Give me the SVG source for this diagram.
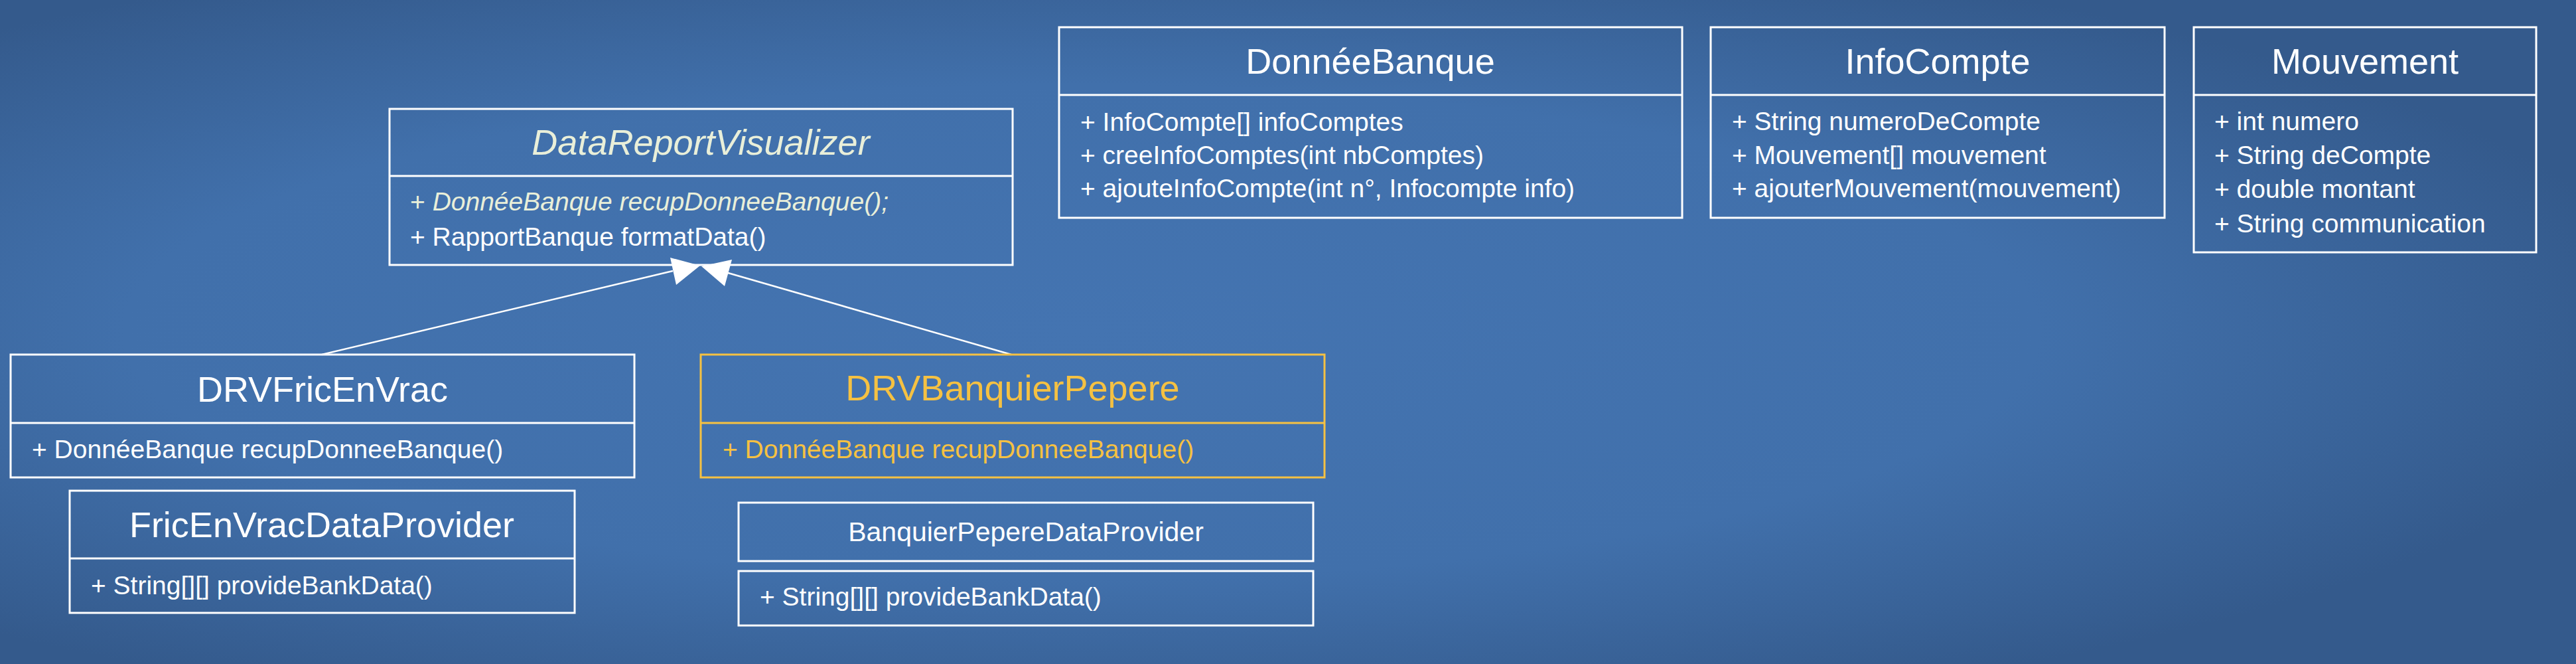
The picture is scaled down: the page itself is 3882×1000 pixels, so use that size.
<svg xmlns="http://www.w3.org/2000/svg" width="3882" height="1000" viewBox="0 0 3882 1000">
<defs>
<radialGradient id="bg" cx="0.42" cy="0.5" r="0.62">
<stop offset="0" stop-color="#4474b1"/>
<stop offset="0.6" stop-color="#4170ab"/>
<stop offset="1" stop-color="#345a8c"/>
</radialGradient>
<style>
.box{fill:none;stroke:#ffffff;stroke-width:3}
.ybox{fill:none;stroke:#f5c142;stroke-width:3}
.t{font-family:"Liberation Sans",Arial,sans-serif;font-size:54px;fill:#ffffff;text-anchor:middle}
.m{font-family:"Liberation Sans",Arial,sans-serif;font-size:39px;fill:#ffffff}
.y{fill:#f5c142}
.cream{fill:#e9efd9}
.it{font-style:italic}
.conn{stroke:#ffffff;stroke-width:2.5;fill:none}
.head{fill:#ffffff;stroke:none}
</style>
</defs>
<rect x="0" y="0" width="3882" height="1000" fill="url(#bg)"/>

<g id="connectors">
<line class="conn" x1="485" y1="534" x2="1014" y2="408"/>
<polygon class="head" points="1055,400 1010,388 1019,429"/>
<line class="conn" x1="1524" y1="534" x2="1097" y2="411"/>
<polygon class="head" points="1057,401 1103,391 1092,431"/>
</g>

<g id="DataReportVisualizer">
<rect class="box" x="587" y="164" width="939" height="235"/>
<line class="box" x1="587" y1="265" x2="1526" y2="265"/>
<text class="t cream it" x="1056" y="233">DataReportVisualizer</text>
<text class="m cream" x="618" y="317">+ <tspan class="it">DonnéeBanque recupDonneeBanque();</tspan></text>
<text class="m" x="618" y="370">+ RapportBanque formatData()</text>
</g>

<g id="DonneeBanque">
<rect class="box" x="1596" y="41" width="939" height="287"/>
<line class="box" x1="1596" y1="143" x2="2535" y2="143"/>
<text class="t" x="2065" y="111">DonnéeBanque</text>
<text class="m" x="1628" y="197">+ InfoCompte[] infoComptes</text>
<text class="m" x="1628" y="247">+ creeInfoComptes(int nbComptes)</text>
<text class="m" x="1628" y="297">+ ajouteInfoCompte(int n°, Infocompte info)</text>
</g>

<g id="InfoCompte">
<rect class="box" x="2578" y="41" width="684" height="287"/>
<line class="box" x1="2578" y1="143" x2="3262" y2="143"/>
<text class="t" x="2920" y="111">InfoCompte</text>
<text class="m" x="2610" y="196">+ String numeroDeCompte</text>
<text class="m" x="2610" y="247">+ Mouvement[] mouvement</text>
<text class="m" x="2610" y="297">+ ajouterMouvement(mouvement)</text>
</g>

<g id="Mouvement">
<rect class="box" x="3306" y="41" width="516" height="339"/>
<line class="box" x1="3306" y1="143" x2="3822" y2="143"/>
<text class="t" x="3564" y="111">Mouvement</text>
<text class="m" x="3337" y="196">+ int numero</text>
<text class="m" x="3337" y="247">+ String deCompte</text>
<text class="m" x="3337" y="298">+ double montant</text>
<text class="m" x="3337" y="350">+ String communication</text>
</g>

<g id="DRVFricEnVrac">
<rect class="box" x="16" y="534" width="940" height="185"/>
<line class="box" x1="16" y1="637" x2="956" y2="637"/>
<text class="t" x="486" y="605">DRVFricEnVrac</text>
<text class="m" x="48" y="690">+ DonnéeBanque recupDonneeBanque()</text>
</g>

<g id="DRVBanquierPepere">
<rect class="ybox" x="1056" y="534" width="940" height="185"/>
<line class="ybox" x1="1056" y1="637" x2="1996" y2="637"/>
<text class="t y" x="1526" y="603">DRVBanquierPepere</text>
<text class="m y" x="1089" y="690">+ DonnéeBanque recupDonneeBanque()</text>
</g>

<g id="FricEnVracDataProvider">
<rect class="box" x="105" y="739" width="761" height="184"/>
<line class="box" x1="105" y1="841" x2="866" y2="841"/>
<text class="t" x="485" y="809">FricEnVracDataProvider</text>
<text class="m" x="137" y="895">+ String[][] provideBankData()</text>
</g>

<g id="BanquierPepereDataProvider">
<rect class="box" x="1113" y="757" width="866" height="88"/>
<rect class="box" x="1113" y="860" width="866" height="82"/>
<text class="t" x="1546" y="815" style="font-size:41px">BanquierPepereDataProvider</text>
<text class="m" x="1145" y="912">+ String[][] provideBankData()</text>
</g>
</svg>
